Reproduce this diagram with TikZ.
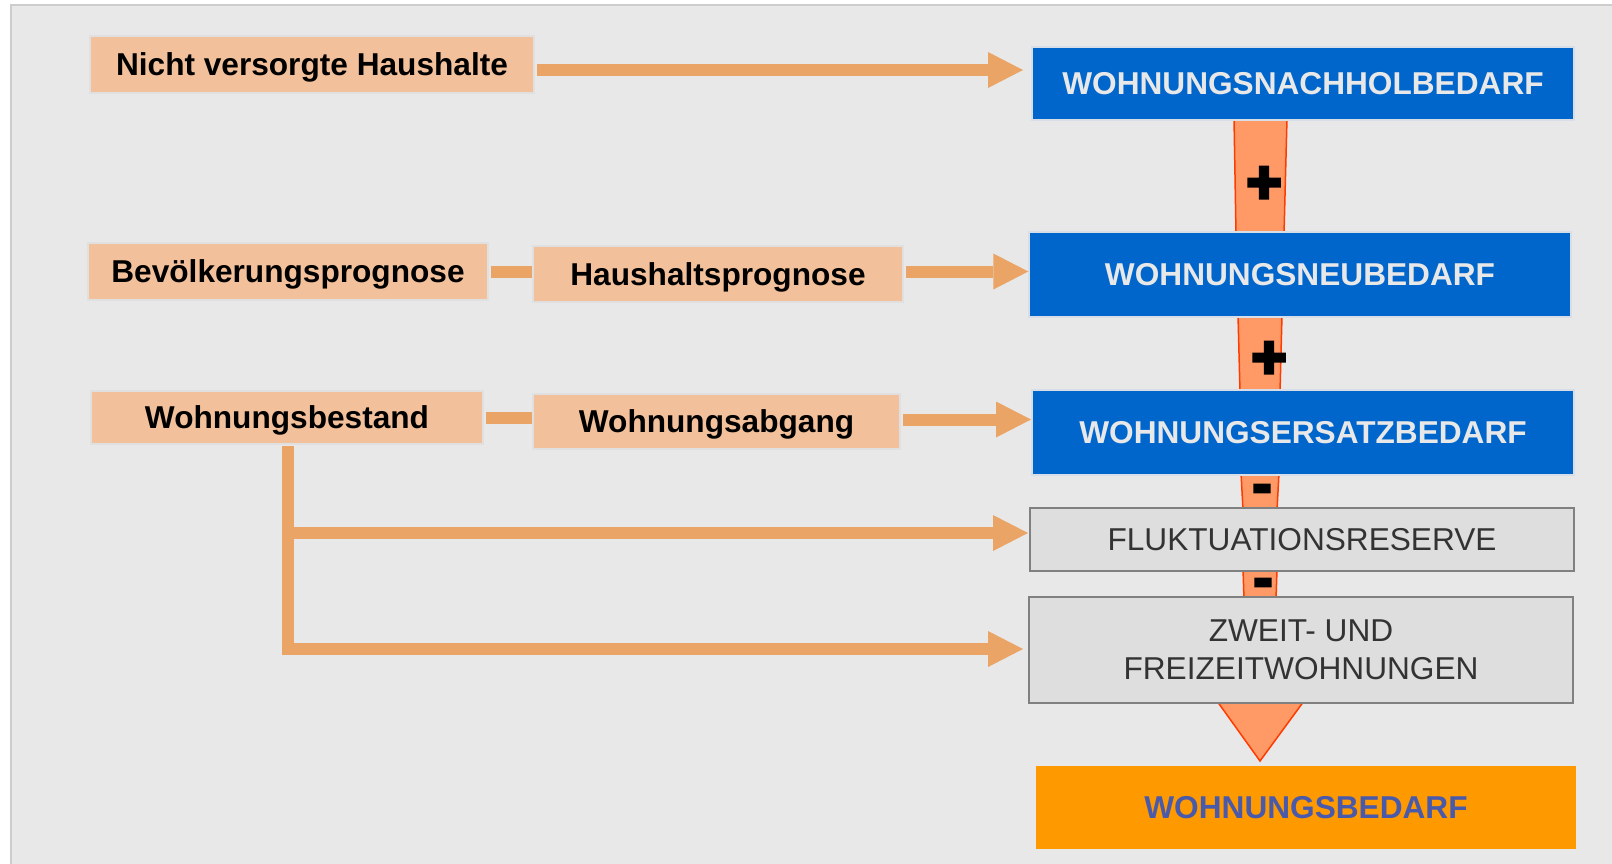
\documentclass[tikz,border=0pt]{standalone}
\usepackage{fontspec}
\setmainfont{Liberation Sans}
\newfontfamily\signfont[BoldFeatures={FakeBold=6}]{Liberation Sans}
\usetikzlibrary{arrows.meta}
\definecolor{bgc}{HTML}{E8E8E8}
\definecolor{framec}{HTML}{CDCDCD}
\definecolor{peach}{HTML}{F2C09A}
\definecolor{peachborder}{HTML}{E0E0E0}
\definecolor{arrowc}{HTML}{EAA466}
\definecolor{boxblue}{HTML}{0066CC}
\definecolor{blueborder}{HTML}{D8DEE8}
\definecolor{bluetext}{HTML}{E8E8E8}
\definecolor{boxgray}{HTML}{DEDEDE}
\definecolor{grayborder}{HTML}{808080}
\definecolor{graytext}{HTML}{333333}
\definecolor{boxorange}{HTML}{FF9900}
\definecolor{orangetext}{HTML}{4A5AAA}
\definecolor{connfill}{HTML}{FF9966}
\definecolor{connline}{HTML}{FF3C00}
\tikzset{
  lbl/.style={draw=peachborder, line width=0.04cm, fill=peach, inner sep=0pt,
    text depth=0pt, font=\fontsize{18}{21}\selectfont\bfseries, text=black},
  bluebox/.style={draw=blueborder, line width=0.03cm, fill=boxblue, inner sep=0pt,
    minimum width=10.84cm, minimum height=1.7cm,
    font=\fontsize{18}{21}\selectfont\bfseries, text=bluetext},
  graybox/.style={draw=grayborder, line width=0.045cm, fill=boxgray, inner sep=0pt,
    minimum width=10.88cm, align=center,
    font=\fontsize{18}{21.6}\selectfont, text=graytext},
  orangebox/.style={draw=bgc, line width=0.03cm, fill=boxorange, inner sep=0pt,
    minimum width=10.84cm, minimum height=1.7cm,
    font=\fontsize{18}{21}\selectfont\bfseries, text=orangetext},
  flow/.style={draw=arrowc, line width=0.24cm},
  flowarrow/.style={flow, -{Triangle[length=0.7cm,width=0.72cm,line width=0pt]}},
  connshape/.style={fill=connfill},
  connedge/.style={draw=connline, line width=0.03cm},
  plussign/.style={inner sep=0pt, font=\signfont\fontsize{34}{34}\selectfont\bfseries},
  minussign/.style={inner sep=0pt, font=\signfont\fontsize{31}{31}\selectfont\bfseries},
}
\begin{document}
\begin{tikzpicture}[x=0.02cm, y=-0.02cm]
\useasboundingbox (0,0) rectangle (1612,863);
\fill[white] (0,0) rectangle (1612,863);
\draw[fill=bgc, draw=framec, line width=0.04cm] (11,5) rectangle (1650,900);

% vertical connectors (drawn before the boxes)
\fill[connshape] (1234,118) -- (1287,118) -- (1284,234) -- (1236,234) -- cycle;
\draw[connedge] (1234,118) -- (1236,234) (1287,118) -- (1284,234);
\fill[connshape] (1238,315) -- (1282,315) -- (1280,392) -- (1240,392) -- cycle;
\draw[connedge] (1238,315) -- (1240,392) (1282,315) -- (1280,392);
\fill[connshape] (1241,473) -- (1279,473) -- (1277,510) -- (1243,510) -- cycle;
\draw[connedge] (1241,473) -- (1243,510) (1279,473) -- (1277,510);
\fill[connshape] (1243,569) -- (1277,569) -- (1276,599) -- (1244,599) -- cycle;
\draw[connedge] (1243,569) -- (1244,599) (1277,569) -- (1276,599);
\draw[connshape, connedge] (1217,701) -- (1304,701) -- (1260,761) -- cycle;

% boxes
\node[lbl, minimum width=8.88cm, minimum height=1.14cm] (nicht) at (312,64.5) {Nicht versorgte Haushalte};
\node[lbl, minimum width=8.0cm, minimum height=1.14cm] (bev) at (288,271.5) {Bevölkerungsprognose};
\node[lbl, minimum width=7.4cm, minimum height=1.12cm] (haus) at (718,274) {Haushaltsprognose};
\node[lbl, minimum width=7.84cm, minimum height=1.06cm] (best) at (287,417.5) {Wohnungsbestand};
\node[lbl, minimum width=7.34cm, minimum height=1.1cm] (abg) at (716.5,421.5) {Wohnungsabgang};

\node[bluebox, minimum height=1.46cm] (nach) at (1303,83.5) {WOHNUNGSNACHHOLBEDARF};
\node[bluebox] (neu) at (1300,274.5) {WOHNUNGSNEUBEDARF};
\node[bluebox] (ers) at (1303,432.5) {WOHNUNGSERSATZBEDARF};
\node[graybox, minimum height=1.26cm] (flu) at (1302,539.5) {FLUKTUATIONSRESERVE};
\node[graybox, minimum height=2.12cm] (zw) at (1301,650) {ZWEIT- UND\\FREIZEITWOHNUNGEN};
\node[orangebox] (bed) at (1306,807.5) {WOHNUNGSBEDARF};

% signs
\node[plussign] (p1) at (1264,185) {+};
\node[plussign] (p2) at (1269,360) {+};
\node[minussign] (m1) at (1262,494) {-};
\node[minussign] (m2) at (1263,588) {-};

% flow arrows
\coordinate (t1) at (1023,70);
\draw[flowarrow] (nicht.east |- t1) ++(2,0) -- (t1);
\draw[flow] (bev.east) ++(2,0) -- (bev.east -| haus.west);
\draw[flowarrow] (haus.east |- bev.east) ++(2,0) -- (bev.east -| neu.west);
\draw[flow] (best.east) ++(2,0) -- (best.east -| abg.west);
\coordinate (t3) at (1031,419.5);
\draw[flowarrow] (abg.east |- t3) ++(2,0) -- (t3);
\coordinate (b1) at (1028,533);
\coordinate (b2) at (1023,649);
\coordinate (vtop) at (288,446);
\draw[flowarrow, line join=miter] (vtop) |- (b2);
\draw[flowarrow] (vtop |- b1) -- (b1);
\end{tikzpicture}
\end{document}
